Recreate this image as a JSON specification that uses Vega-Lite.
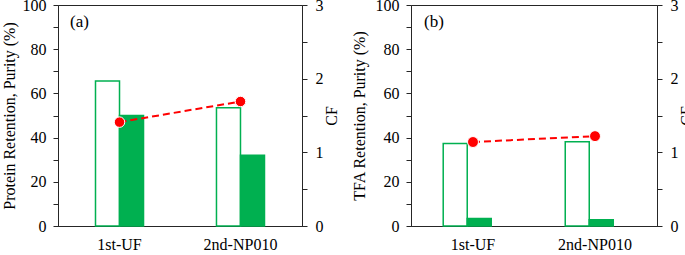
{
  "$schema": "https://vega.github.io/schema/vega-lite/v6.json",
  "padding": {"left": 0, "top": -4, "right": 0, "bottom": 0},
  "background": "white",
  "datasets": {
    "bars_a": [
      {"stage": "1st-UF", "metric": "Retention", "value": 65.6},
      {"stage": "1st-UF", "metric": "Purity", "value": 50.0},
      {"stage": "2nd-NP010", "metric": "Retention", "value": 53.5},
      {"stage": "2nd-NP010", "metric": "Purity", "value": 32.0}
    ],
    "cf_a": [
      {"stage": "1st-UF", "CF": 1.41},
      {"stage": "2nd-NP010", "CF": 1.69}
    ],
    "bars_b": [
      {"stage": "1st-UF", "metric": "Retention", "value": 37.3},
      {"stage": "1st-UF", "metric": "Purity", "value": 3.4},
      {"stage": "2nd-NP010", "metric": "Retention", "value": 38.1},
      {"stage": "2nd-NP010", "metric": "Purity", "value": 2.85}
    ],
    "cf_b": [
      {"stage": "1st-UF", "CF": 1.14},
      {"stage": "2nd-NP010", "CF": 1.22}
    ]
  },
  "spacing": 10,
  "hconcat": [
    {
      "width": 244,
      "height": 221,
      "title": {"text": "(a)", "anchor": "start", "frame": "group", "dx": 12, "offset": -34, "fontSize": 17, "font": "Liberation Serif", "fontWeight": "normal", "color": "black"},
      "layer": [
        {
          "data": {"name": "bars_a"},
          "mark": {"type": "bar", "stroke": "#00B050", "strokeWidth": 1.5},
          "encoding": {
            "x": {"field": "stage", "type": "nominal", "sort": ["1st-UF", "2nd-NP010"],
                  "scale": {"paddingInner": 0.603, "paddingOuter": 0.31},
                  "axis": {"title": null, "labelAngle": 0, "ticks": false, "labelPadding": 10}},
            "xOffset": {"field": "metric", "type": "nominal", "sort": ["Retention", "Purity"], "scale": {"paddingInner": 0, "paddingOuter": 0}},
            "y": {"field": "value", "type": "quantitative", "scale": {"domain": [0, 100]},
                  "axis": {"title": "Protein Retention, Purity (%)", "values": [0,10,20,30,40,50,60,70,80,90,100], "labelExpr": "datum.value % 20 === 0 ? datum.label : ''", "labelPadding": 7, "titlePadding": 5}},
            "fill": {"field": "metric", "type": "nominal", "scale": {"domain": ["Retention", "Purity"], "range": ["white", "#00B050"]}, "legend": null}
          }
        },
        {
          "data": {"name": "cf_a"},
          "layer": [
            {
              "mark": {"type": "line", "color": "#FF0000", "strokeDash": [7, 4], "strokeWidth": 2},
              "encoding": {
                "x": {"field": "stage", "type": "nominal", "sort": ["1st-UF", "2nd-NP010"]},
                "y": {"field": "CF", "type": "quantitative", "scale": {"domain": [0, 3]},
                      "axis": {"orient": "right", "title": "CF", "values": [0,0.5,1,1.5,2,2.5,3], "labelExpr": "datum.value % 1 === 0 ? format(datum.value, 'd') : ''", "labelPadding": 8, "titlePadding": 0, "titleAngle": 270, "titleBaseline": "top"}}
              }
            },
            {
              "mark": {"type": "point", "filled": true, "fill": "#FF0000", "stroke": "white", "strokeWidth": 1, "size": 110, "opacity": 1, "shape": "circle"},
              "encoding": {
                "x": {"field": "stage", "type": "nominal", "sort": ["1st-UF", "2nd-NP010"]},
                "y": {"field": "CF", "type": "quantitative", "scale": {"domain": [0, 3]},
                      "axis": {"orient": "right", "title": "CF", "values": [0,0.5,1,1.5,2,2.5,3], "labelExpr": "datum.value % 1 === 0 ? format(datum.value, 'd') : ''", "labelPadding": 8, "titlePadding": 0, "titleAngle": 270, "titleBaseline": "top"}}
              }
            }
          ]
        }
      ],
      "resolve": {"scale": {"y": "independent"}}
    },
    {
      "width": 246,
      "height": 221,
      "title": {"text": "(b)", "anchor": "start", "frame": "group", "dx": 13, "offset": -34, "fontSize": 17, "font": "Liberation Serif", "fontWeight": "normal", "color": "black"},
      "layer": [
        {
          "data": {"name": "bars_b"},
          "mark": {"type": "bar", "stroke": "#00B050", "strokeWidth": 1.5},
          "encoding": {
            "x": {"field": "stage", "type": "nominal", "sort": ["1st-UF", "2nd-NP010"],
                  "scale": {"paddingInner": 0.512, "paddingOuter": 0.264},
                  "axis": {"title": null, "labelAngle": 0, "ticks": false, "labelPadding": 10}},
            "xOffset": {"field": "metric", "type": "nominal", "sort": ["Retention", "Purity"], "scale": {"paddingInner": 0, "paddingOuter": 0}},
            "y": {"field": "value", "type": "quantitative", "scale": {"domain": [0, 100]},
                  "axis": {"title": "TFA Retention, Purity (%)", "values": [0,10,20,30,40,50,60,70,80,90,100], "labelExpr": "datum.value % 20 === 0 ? datum.label : ''", "labelPadding": 7, "titlePadding": 8}},
            "fill": {"field": "metric", "type": "nominal", "scale": {"domain": ["Retention", "Purity"], "range": ["white", "#00B050"]}, "legend": null}
          }
        },
        {
          "data": {"name": "cf_b"},
          "layer": [
            {
              "mark": {"type": "line", "color": "#FF0000", "strokeDash": [7, 4], "strokeWidth": 2},
              "encoding": {
                "x": {"field": "stage", "type": "nominal", "sort": ["1st-UF", "2nd-NP010"]},
                "y": {"field": "CF", "type": "quantitative", "scale": {"domain": [0, 3]},
                      "axis": {"orient": "right", "title": "CF", "values": [0,0.5,1,1.5,2,2.5,3], "labelExpr": "datum.value % 1 === 0 ? format(datum.value, 'd') : ''", "labelPadding": 8, "titlePadding": 0, "titleAngle": 270, "titleBaseline": "top"}}
              }
            },
            {
              "mark": {"type": "point", "filled": true, "fill": "#FF0000", "stroke": "white", "strokeWidth": 1, "size": 120, "opacity": 1, "shape": "circle"},
              "encoding": {
                "x": {"field": "stage", "type": "nominal", "sort": ["1st-UF", "2nd-NP010"]},
                "y": {"field": "CF", "type": "quantitative", "scale": {"domain": [0, 3]},
                      "axis": {"orient": "right", "title": "CF", "values": [0,0.5,1,1.5,2,2.5,3], "labelExpr": "datum.value % 1 === 0 ? format(datum.value, 'd') : ''", "labelPadding": 8, "titlePadding": 0, "titleAngle": 270, "titleBaseline": "top"}}
              }
            }
          ]
        }
      ],
      "resolve": {"scale": {"y": "independent"}}
    }
  ],
  "config": {
    "view": {"stroke": "#262626", "strokeWidth": 1},
    "axis": {
      "domainColor": "#262626", "tickColor": "#262626", "tickSize": 5, "grid": false,
      "labelFont": "Liberation Serif", "labelFontSize": 16, "labelColor": "black",
      "titleFont": "Liberation Serif", "titleFontSize": 16, "titleFontWeight": "normal", "titleColor": "black"
    }
  }
}
